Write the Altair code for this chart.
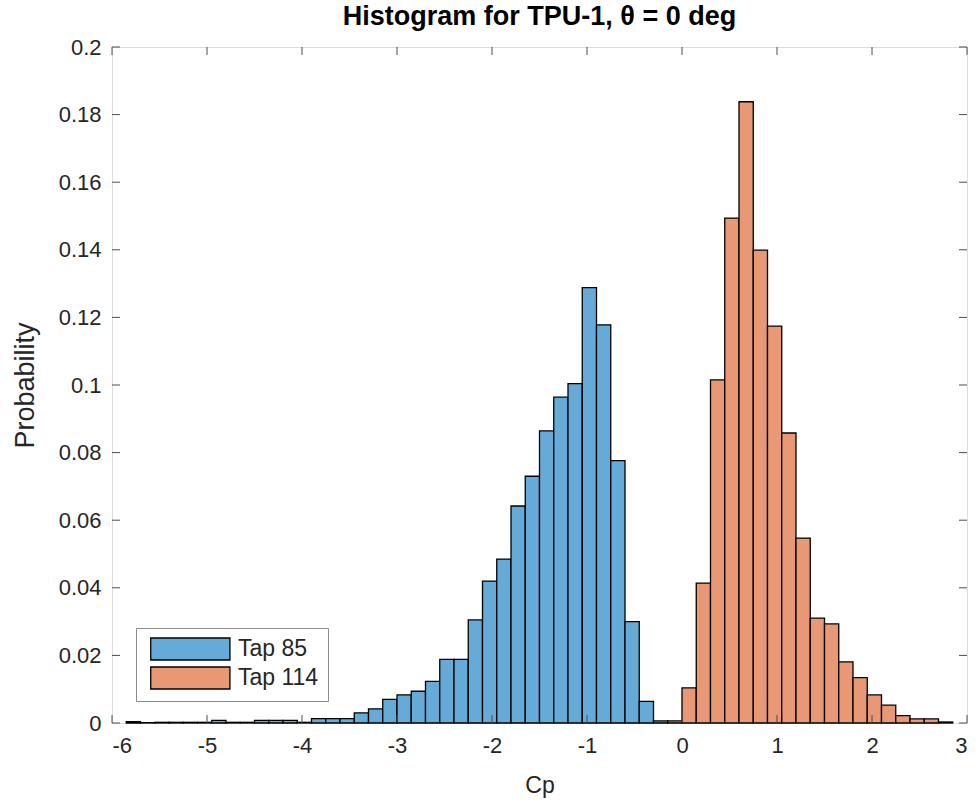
import altair as alt
import pandas as pd

# ---- data -------------------------------------------------------------
tap85_left = [-5.85, -5.7, -5.55, -5.4, -5.25, -5.1, -4.95, -4.8, -4.65, -4.5,
              -4.35, -4.2, -4.05, -3.9, -3.75, -3.6, -3.45, -3.3, -3.15, -3.0,
              -2.85, -2.7, -2.55, -2.4, -2.25, -2.1, -1.95, -1.8, -1.65, -1.5,
              -1.35, -1.2, -1.05, -0.9, -0.75, -0.6, -0.45, -0.3]
tap85_prob = [0.0004, 0.0001, 0.0002, 0.0002, 0.0002, 0.0002, 0.0008, 0.0002, 0.0002, 0.0008,
              0.0008, 0.0008, 0.0002, 0.0013, 0.0013, 0.0013, 0.0030, 0.0042, 0.0070, 0.0083,
              0.0094, 0.0123, 0.0188, 0.0188, 0.0305, 0.0420, 0.0485, 0.0642, 0.0730, 0.0864,
              0.0964, 0.1004, 0.1288, 0.1178, 0.0776, 0.0300, 0.0064, 0.0006]

tap114_left = [-0.15, 0.0, 0.15, 0.3, 0.45, 0.6, 0.75, 0.9, 1.05, 1.2,
               1.35, 1.5, 1.65, 1.8, 1.95, 2.1, 2.25, 2.4, 2.55, 2.7]
tap114_prob = [0.0006, 0.0104, 0.0414, 0.1015, 0.1494, 0.1838, 0.1399, 0.1174, 0.0858, 0.0547,
               0.0310, 0.0293, 0.0181, 0.0134, 0.0083, 0.0053, 0.0022, 0.0012, 0.0012, 0.0003]

bin_width = 0.15
series_names = ["Tap 85", "Tap 114"]
series_colors = ["#66aad7", "#e89875"]

x_ticks = [-6, -5, -4, -3, -2, -1, 0, 1, 2, 3]
y_ticks = [0, 0.02, 0.04, 0.06, 0.08, 0.1, 0.12, 0.14, 0.16, 0.18, 0.2]

rows = []
for name, lefts, probs in [(series_names[0], tap85_left, tap85_prob),
                           (series_names[1], tap114_left, tap114_prob)]:
    for l, p in zip(lefts, probs):
        rows.append({"series": name, "start": l, "end": l + bin_width, "prob": p})
bars_df = pd.DataFrame(rows)
xt_df = pd.DataFrame({"start": x_ticks})
yt_df = pd.DataFrame({"prob": y_ticks})

W, H = 855, 676
FONT = "Liberation Sans"
AX = "#262626"
TICK = 8

xscale = alt.Scale(domain=[-6, 3], nice=False, zero=False)
yscale = alt.Scale(domain=[0, 0.2], nice=False)

x_axis = alt.Axis(title="Cp", values=x_ticks, labelExpr="toString(datum.value)",
                  ticks=False, domain=False, grid=False,
                  labelFont=FONT, labelFontSize=22, labelColor=AX, labelPadding=12,
                  titleFont=FONT, titleFontSize=23, titleFontWeight="normal",
                  titleColor=AX, titleY=69, titleBaseline="alphabetic")
y_axis = alt.Axis(title="Probability", values=y_ticks, labelExpr="toString(datum.value)",
                  ticks=False, domain=False, grid=False,
                  labelFont=FONT, labelFontSize=22, labelColor=AX, labelPadding=11,
                  titleFont=FONT, titleFontSize=27, titleFontWeight="normal",
                  titleColor=AX, titleX=-79, titleBaseline="alphabetic")

bars = alt.Chart(bars_df).mark_bar(stroke="black", strokeWidth=1.3, opacity=1).encode(
    x=alt.X("start:Q", scale=xscale, axis=x_axis),
    x2="end:Q",
    y=alt.Y("prob:Q", scale=yscale, axis=y_axis),
    y2=alt.datum(0),
    color=alt.Color("series:N", sort=series_names,
                    scale=alt.Scale(domain=series_names, range=series_colors),
                    legend=alt.Legend(title=None, orient="none", legendX=24, legendY=581,
                                      symbolType="M-0.57,-1H6.63V1H-0.57Z", symbolSize=484,
                                      symbolStrokeColor="black", symbolStrokeWidth=1.3,
                                      symbolOpacity=1,
                                      labelFont=FONT, labelFontSize=23, labelColor=AX,
                                      labelOffset=69, padding=9, rowPadding=1,
                                      strokeColor="#8c8c8c", fillColor="white")),
    order=alt.Order("series_order:Q"),
).transform_calculate(series_order="datum.series == 'Tap 85' ? 0 : 1")

tick_col = "#4d4d4d"
xt_bottom = alt.Chart(xt_df).mark_rule(color=tick_col, strokeWidth=1).encode(
    x=alt.X("start:Q", scale=xscale, axis=x_axis), y=alt.value(H), y2=alt.value(H - TICK))
xt_top = alt.Chart(xt_df).mark_rule(color=tick_col, strokeWidth=1).encode(
    x=alt.X("start:Q", scale=xscale, axis=x_axis), y=alt.value(0), y2=alt.value(TICK))
yt_left = alt.Chart(yt_df).mark_rule(color=tick_col, strokeWidth=1).encode(
    y=alt.Y("prob:Q", scale=yscale, axis=y_axis), x=alt.value(0), x2=alt.value(TICK))
yt_right = alt.Chart(yt_df).mark_rule(color=tick_col, strokeWidth=1).encode(
    y=alt.Y("prob:Q", scale=yscale, axis=y_axis), x=alt.value(W), x2=alt.value(W - TICK))

chart = alt.layer(bars, xt_bottom, xt_top, yt_left, yt_right).properties(
    width=W, height=H,
    title=alt.TitleParams(text="Histogram for TPU-1, θ = 0 deg", font=FONT, fontSize=27,
                          fontWeight="bold", color="black", anchor="middle",
                          frame="group", baseline="alphabetic", offset=20, dy=36),
    autosize=alt.AutoSizeParams(type="none"),
    padding={"left": 112, "top": 47, "right": 9, "bottom": 78},
).configure_view(stroke="#6e6e6e", strokeWidth=1).configure(background="white")

chart.save("out.html", embed_options={"renderer": "svg", "actions": False})
